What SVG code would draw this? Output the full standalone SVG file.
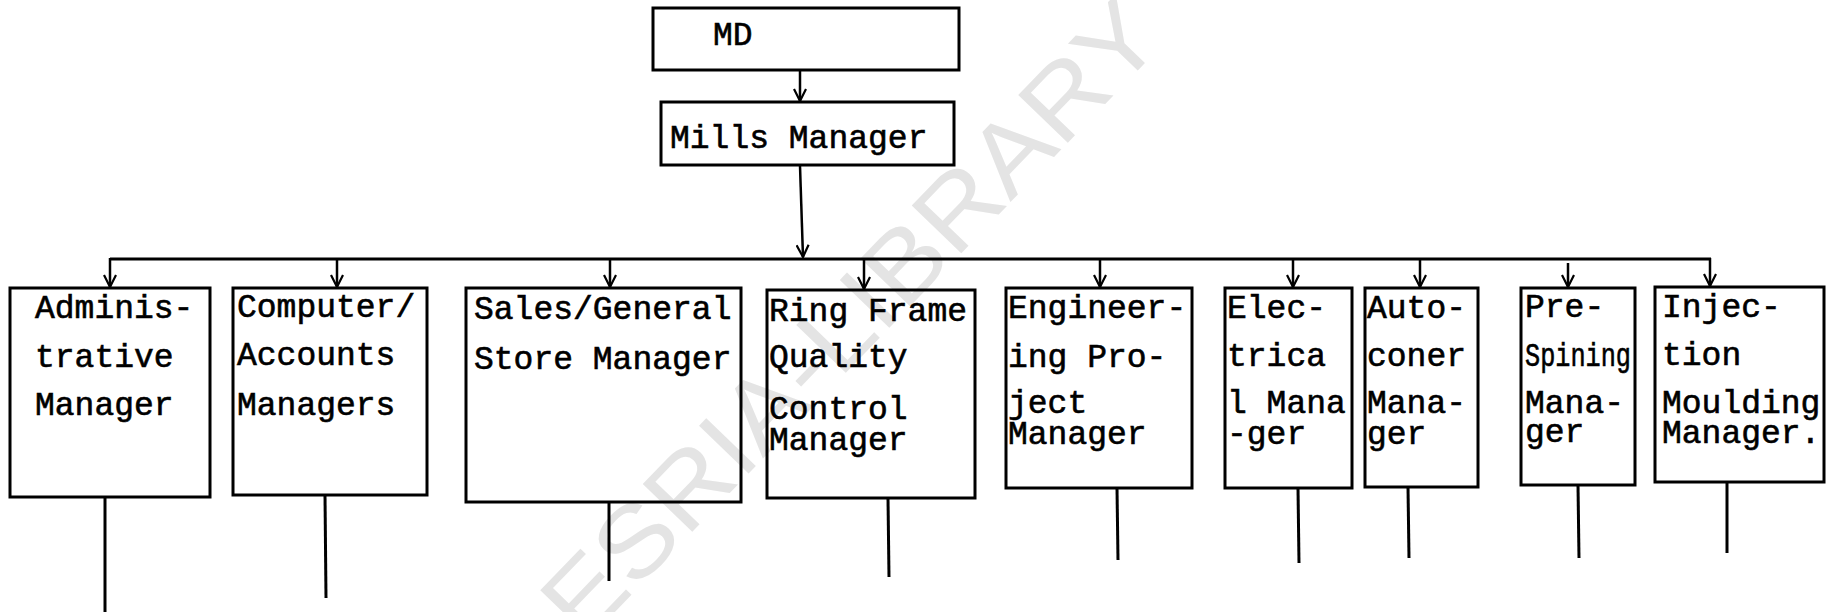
<svg xmlns="http://www.w3.org/2000/svg" width="1826" height="612" viewBox="0 0 1826 612">
<style>
.bg{fill:#ffffff}
.wm{font-family:"Liberation Sans","DejaVu Sans",sans-serif;font-size:100px;fill:#e4e4e4}
.box{fill:none;stroke:#000;stroke-width:3}
.t{font-family:"Liberation Mono","DejaVu Sans Mono",monospace;font-size:33px;fill:#000;stroke:#000;stroke-width:0.6}
.ln{stroke:#000;stroke-width:3;fill:none}
.ar{stroke:#000;stroke-width:2.5;fill:none;marker-end:url(#arr)}
</style>
<defs>
<marker id="arr" viewBox="0 0 14 14" markerWidth="14" markerHeight="14" refX="13" refY="7" orient="auto" markerUnits="userSpaceOnUse">
<path d="M1,1 L13,7 L1,13" fill="none" stroke="#000" stroke-width="2.2"/>
</marker>
</defs>
<rect class="bg" x="0" y="0" width="1826" height="612"/>
<text class="wm" transform="translate(850,318) rotate(-46)" text-anchor="middle" dominant-baseline="central" textLength="840" lengthAdjust="spacingAndGlyphs">ESRIA-LIBRARY</text>

<g id="connectors">
<line class="ar" x1="800" y1="71" x2="800" y2="101"/>
<line class="ar" x1="800" y1="166" x2="803" y2="257"/>
<line class="ln" x1="110" y1="259" x2="1711" y2="259"/>
<line class="ar" x1="110" y1="258" x2="110" y2="287"/>
<line class="ar" x1="337" y1="259" x2="337" y2="287"/>
<line class="ar" x1="610" y1="259" x2="610" y2="287"/>
<line class="ar" x1="864" y1="259" x2="864" y2="289"/>
<line class="ar" x1="1100" y1="259" x2="1100" y2="287"/>
<line class="ar" x1="1293" y1="259" x2="1293" y2="287"/>
<line class="ar" x1="1420" y1="259" x2="1420" y2="287"/>
<line class="ar" x1="1568" y1="263" x2="1568" y2="287"/>
<line class="ar" x1="1710" y1="258" x2="1710" y2="286"/>
<line class="ln" x1="105" y1="497" x2="105" y2="612"/>
<line class="ln" x1="325" y1="495" x2="326" y2="598"/>
<line class="ln" x1="609" y1="502" x2="609" y2="581"/>
<line class="ln" x1="888" y1="498" x2="889" y2="577"/>
<line class="ln" x1="1117" y1="488" x2="1118" y2="560"/>
<line class="ln" x1="1298" y1="488" x2="1299" y2="563"/>
<line class="ln" x1="1408" y1="487" x2="1409" y2="558"/>
<line class="ln" x1="1578" y1="485" x2="1579" y2="558"/>
<line class="ln" x1="1727" y1="482" x2="1727" y2="553"/>
</g>

<g id="md">
<rect class="box" x="653" y="8" width="306" height="62"/>
<text class="t" x="713" y="45">MD</text>
</g>
<g id="mills-manager">
<rect class="box" x="661" y="102" width="293" height="63"/>
<text class="t" x="670" y="148">Mills Manager</text>
</g>
<g id="administrative-manager">
<rect class="box" x="10" y="288" width="200" height="209"/>
<text class="t" x="35" y="318">Adminis-</text>
<text class="t" x="35" y="367">trative</text>
<text class="t" x="35" y="415">Manager</text>
</g>
<g id="computer-accounts-managers">
<rect class="box" x="233" y="288" width="194" height="207"/>
<text class="t" x="237" y="317">Computer/</text>
<text class="t" x="237" y="365">Accounts</text>
<text class="t" x="237" y="415">Managers</text>
</g>
<g id="sales-store-manager">
<rect class="box" x="466" y="288" width="275" height="214"/>
<text class="t" x="474" y="319">Sales/General</text>
<text class="t" x="474" y="369">Store Manager</text>
</g>
<g id="ring-frame-qc-manager">
<rect class="box" x="767" y="290" width="208" height="208"/>
<text class="t" x="769" y="321">Ring Frame</text>
<text class="t" x="769" y="367">Quality</text>
<text class="t" x="769" y="419">Control</text>
<text class="t" x="769" y="450">Manager</text>
</g>
<g id="engineering-project-manager">
<rect class="box" x="1006" y="288" width="186" height="200"/>
<text class="t" x="1008" y="318">Engineer-</text>
<text class="t" x="1008" y="367">ing Pro-</text>
<text class="t" x="1008" y="413">ject</text>
<text class="t" x="1008" y="444">Manager</text>
</g>
<g id="electrical-manager">
<rect class="box" x="1225" y="288" width="127" height="200"/>
<text class="t" x="1227" y="318">Elec-</text>
<text class="t" x="1227" y="366">trica</text>
<text class="t" x="1227" y="413">l Mana</text>
<text class="t" x="1227" y="444">-ger</text>
</g>
<g id="autoconer-manager">
<rect class="box" x="1365" y="288" width="113" height="199"/>
<text class="t" x="1367" y="318">Auto-</text>
<text class="t" x="1367" y="366">coner</text>
<text class="t" x="1367" y="413">Mana-</text>
<text class="t" x="1367" y="444">ger</text>
</g>
<g id="pre-spinning-manager">
<rect class="box" x="1521" y="288" width="114" height="197"/>
<text class="t" x="1525" y="317">Pre-</text>
<text class="t" x="1525" y="366" textLength="106" lengthAdjust="spacingAndGlyphs">Spining</text>
<text class="t" x="1525" y="413">Mana-</text>
<text class="t" x="1525" y="442">ger</text>
</g>
<g id="injection-moulding-manager">
<rect class="box" x="1655" y="287" width="169" height="195"/>
<text class="t" x="1662" y="317">Injec-</text>
<text class="t" x="1662" y="365">tion</text>
<text class="t" x="1662" y="413">Moulding</text>
<text class="t" x="1662" y="443">Manager.</text>
</g>
</svg>
